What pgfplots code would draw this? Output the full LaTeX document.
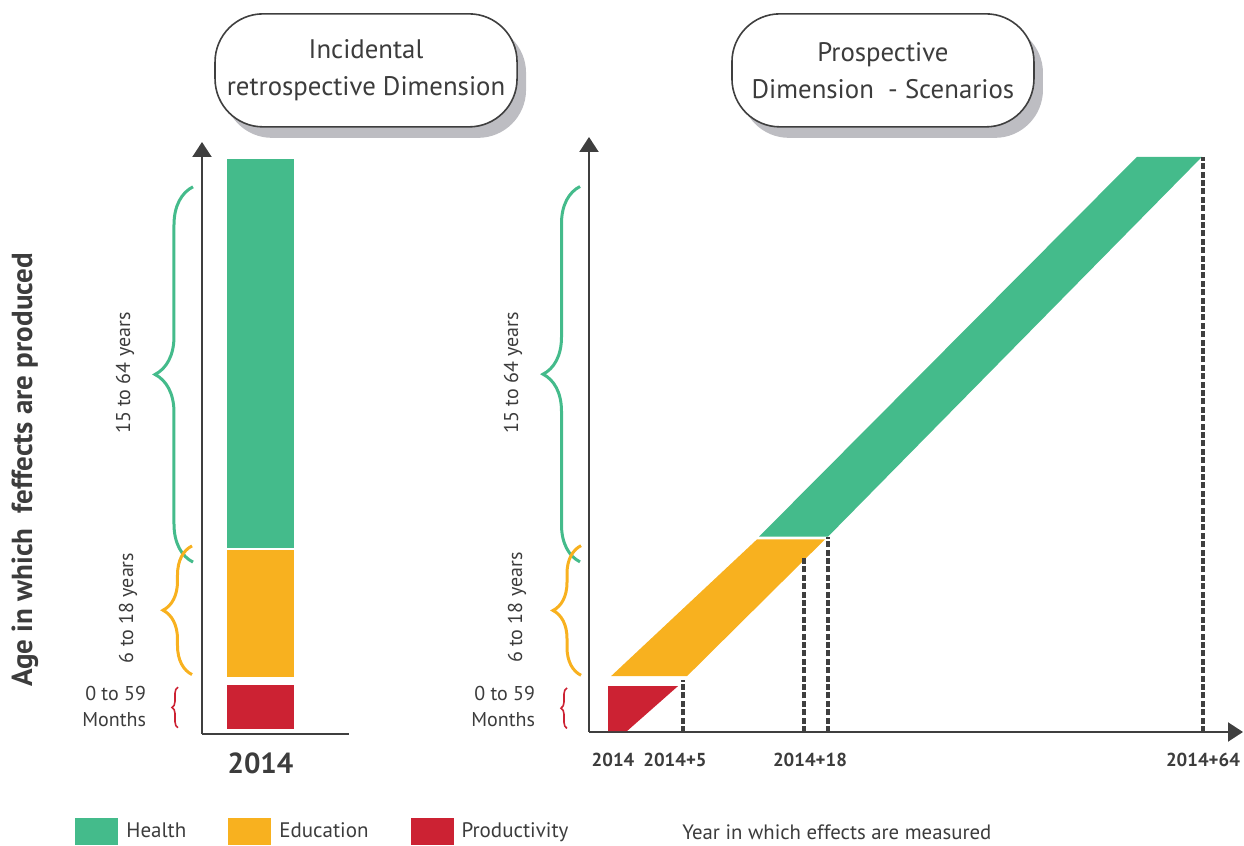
\documentclass[border=0pt]{standalone}
\usepackage{fontspec}
\setmainfont{PT Sans}
\usepackage{pgfplots}
\pgfplotsset{compat=1.18}
\usetikzlibrary{arrows.meta,decorations.pathreplacing,shadows}

\definecolor{health}{HTML}{44BB8B}
\definecolor{educ}{HTML}{F8B11F}
\definecolor{prod}{HTML}{CC2233}
\definecolor{axisgray}{HTML}{3F3F3F}
\definecolor{txt}{HTML}{3C3C3C}
\definecolor{shadowgray}{HTML}{BDBDC2}

\tikzset{
  agebrace/.style={decorate, decoration={brace, amplitude=#1}, line width=1.5pt},
  titlebox/.style={draw=axisgray, line width=0.8pt, fill=white, rounded corners=24pt,
    minimum width=151pt, minimum height=56.5pt, align=center,
    font=\fontsize{13.4}{18.5}\selectfont, text=txt,
    drop shadow={shadow xshift=4.5pt, shadow yshift=-5.5pt, fill=shadowgray, opacity=1}},
  bandlabel/.style={rotate=90, font=\fontsize{10}{12}\selectfont, text=txt},
  monthlabel/.style={anchor=east, align=right, font=\fontsize{10}{13}\selectfont, text=txt},
}
\pgfplotsset{
  base/.style={
    scale only axis,
    axis lines=left,
    axis line style={line width=1pt, color=axisgray},
    ytick=\empty,
    ymin=0, xmin=0,
    clip=false,
    major tick length=0pt,
    tick style={draw=none},
    xticklabel style={anchor=center, text=txt},
    legend image code/.code={\fill[#1] (0pt,-6.75pt) rectangle (21.5pt,6.75pt);},
  },
  measure/.style={draw=axisgray, line width=1.6pt, dash pattern=on 3pt off 1.2pt},
}

\begin{document}
\begin{tikzpicture}
\path[use as bounding box] (0,0) rectangle (622pt,423pt);

% left: incidental retrospective dimension
\begin{axis}[base,
    at={(101pt,56pt)}, anchor=south west,
    width=73.5pt, height=296pt,
    xmax=14.7, ymax=65.78,
    x axis line style={-},
    y axis line style={-{Triangle[width=9.5pt,length=7.5pt]}},
    xtick={5.85}, xticklabels={2014},
    xticklabel style={font=\bfseries\fontsize{14.5}{16}\selectfont, yshift=-14.5pt},
    legend columns=-1,
    legend style={at={(axis description cs:-0.864,-0.1655)}, anchor=west,
      draw=none, fill=none, inner sep=0pt, text=txt,
      font=\fontsize{10.5}{12}\selectfont,
      /tikz/every odd column/.append style={column sep=2pt},
      /tikz/every even column/.append style={column sep=19pt}},
  ]
  \addplot[fill=health, draw=none] coordinates {(2.5,20.7)(9.2,20.7)(9.2,63.9)(2.5,63.9)};
  \addplot[fill=educ, draw=none] coordinates {(2.5,6.3)(9.2,6.3)(9.2,20.4)(2.5,20.4)};
  \addplot[fill=prod, draw=none] coordinates {(2.5,0.5)(9.2,0.5)(9.2,5.4)(2.5,5.4)};
  \legend{Health, Education, Productivity}

  \draw[agebrace=19pt, health] (axis cs:-0.9,19.1) -- (axis cs:-0.9,60.8);
  \draw[agebrace=14.5pt, educ] (axis cs:-1.0,6.6) -- (axis cs:-1.0,20.9);
  \draw[agebrace=3pt, prod, line width=0.8pt] (axis cs:-2.4,0.7) -- (axis cs:-2.4,5.2);
  \node[bandlabel] at (axis cs:-7.7,40.1) {15 to 64 years};
  \node[bandlabel] at (axis cs:-7.4,14.0) {6 to 18 years};
  \node[monthlabel] at (axis cs:-4.9,3.1) {0 to 59\\Months};

  \node[rotate=90, font=\bfseries\fontsize{14.5}{16}\selectfont, text=txt]
    at (axis description cs:-1.204,0.446) {Age in which \ feffects are produced};
  \node[titlebox] at (axis description cs:1.116,1.121) {Incidental\\retrospective Dimension};
\end{axis}

% right: prospective dimension - scenarios
\begin{axis}[base,
    at={(294.5pt,57pt)}, anchor=south west,
    width=327pt, height=297.5pt,
    xmax=65.4, ymax=66.1,
    axis line style={-{Triangle[width=9.5pt,length=7.5pt]}},
    xtick={2.4,8.6,22.1,61.4},
    xticklabels={2014,2014+5,2014+18,2014+64},
    xticklabel style={font=\bfseries\fontsize{9.4}{11}\selectfont, yshift=-14pt},
  ]
  \addplot[fill=prod, draw=none] coordinates {(1.9,0.1)(3.8,0.1)(8.9,5.1)(1.9,5.1)};
  \addplot[fill=educ, draw=none] coordinates {(2.2,6.2)(9.8,6.2)(23.6,21.4)(16.8,21.4)};
  \addplot[fill=health, draw=none] coordinates {(17.0,21.7)(23.9,21.7)(61.3,63.9)(54.8,63.9)};

  \addplot[measure] coordinates {(9.4,0)(9.4,5.8)};
  \addplot[measure] coordinates {(21.5,0)(21.5,19.3)};
  \addplot[measure] coordinates {(23.9,0)(23.9,21.7)};
  \addplot[measure] coordinates {(61.4,0)(61.4,63.9)};

  \draw[agebrace=18.5pt, health] (axis cs:-0.9,18.9) -- (axis cs:-0.9,60.6);
  \draw[agebrace=14pt, educ] (axis cs:-0.8,6.3) -- (axis cs:-0.8,20.7);
  \draw[agebrace=3pt, prod, line width=0.8pt] (axis cs:-2.2,0.4) -- (axis cs:-2.2,4.9);
  \node[bandlabel] at (axis cs:-7.6,39.9) {15 to 64 years};
  \node[bandlabel] at (axis cs:-7.2,13.8) {6 to 18 years};
  \node[monthlabel] at (axis cs:-4.7,2.8) {0 to 59\\Months};

  \node[anchor=west, inner sep=0pt, font=\fontsize{10.4}{12}\selectfont, text=txt]
    at (axis description cs:0.142,-0.168) {Year in which effects are measured};
  \node[titlebox] at (axis description cs:0.4495,1.112) {Prospective\\Dimension \ - Scenarios};
\end{axis}
\end{tikzpicture}
\end{document}
